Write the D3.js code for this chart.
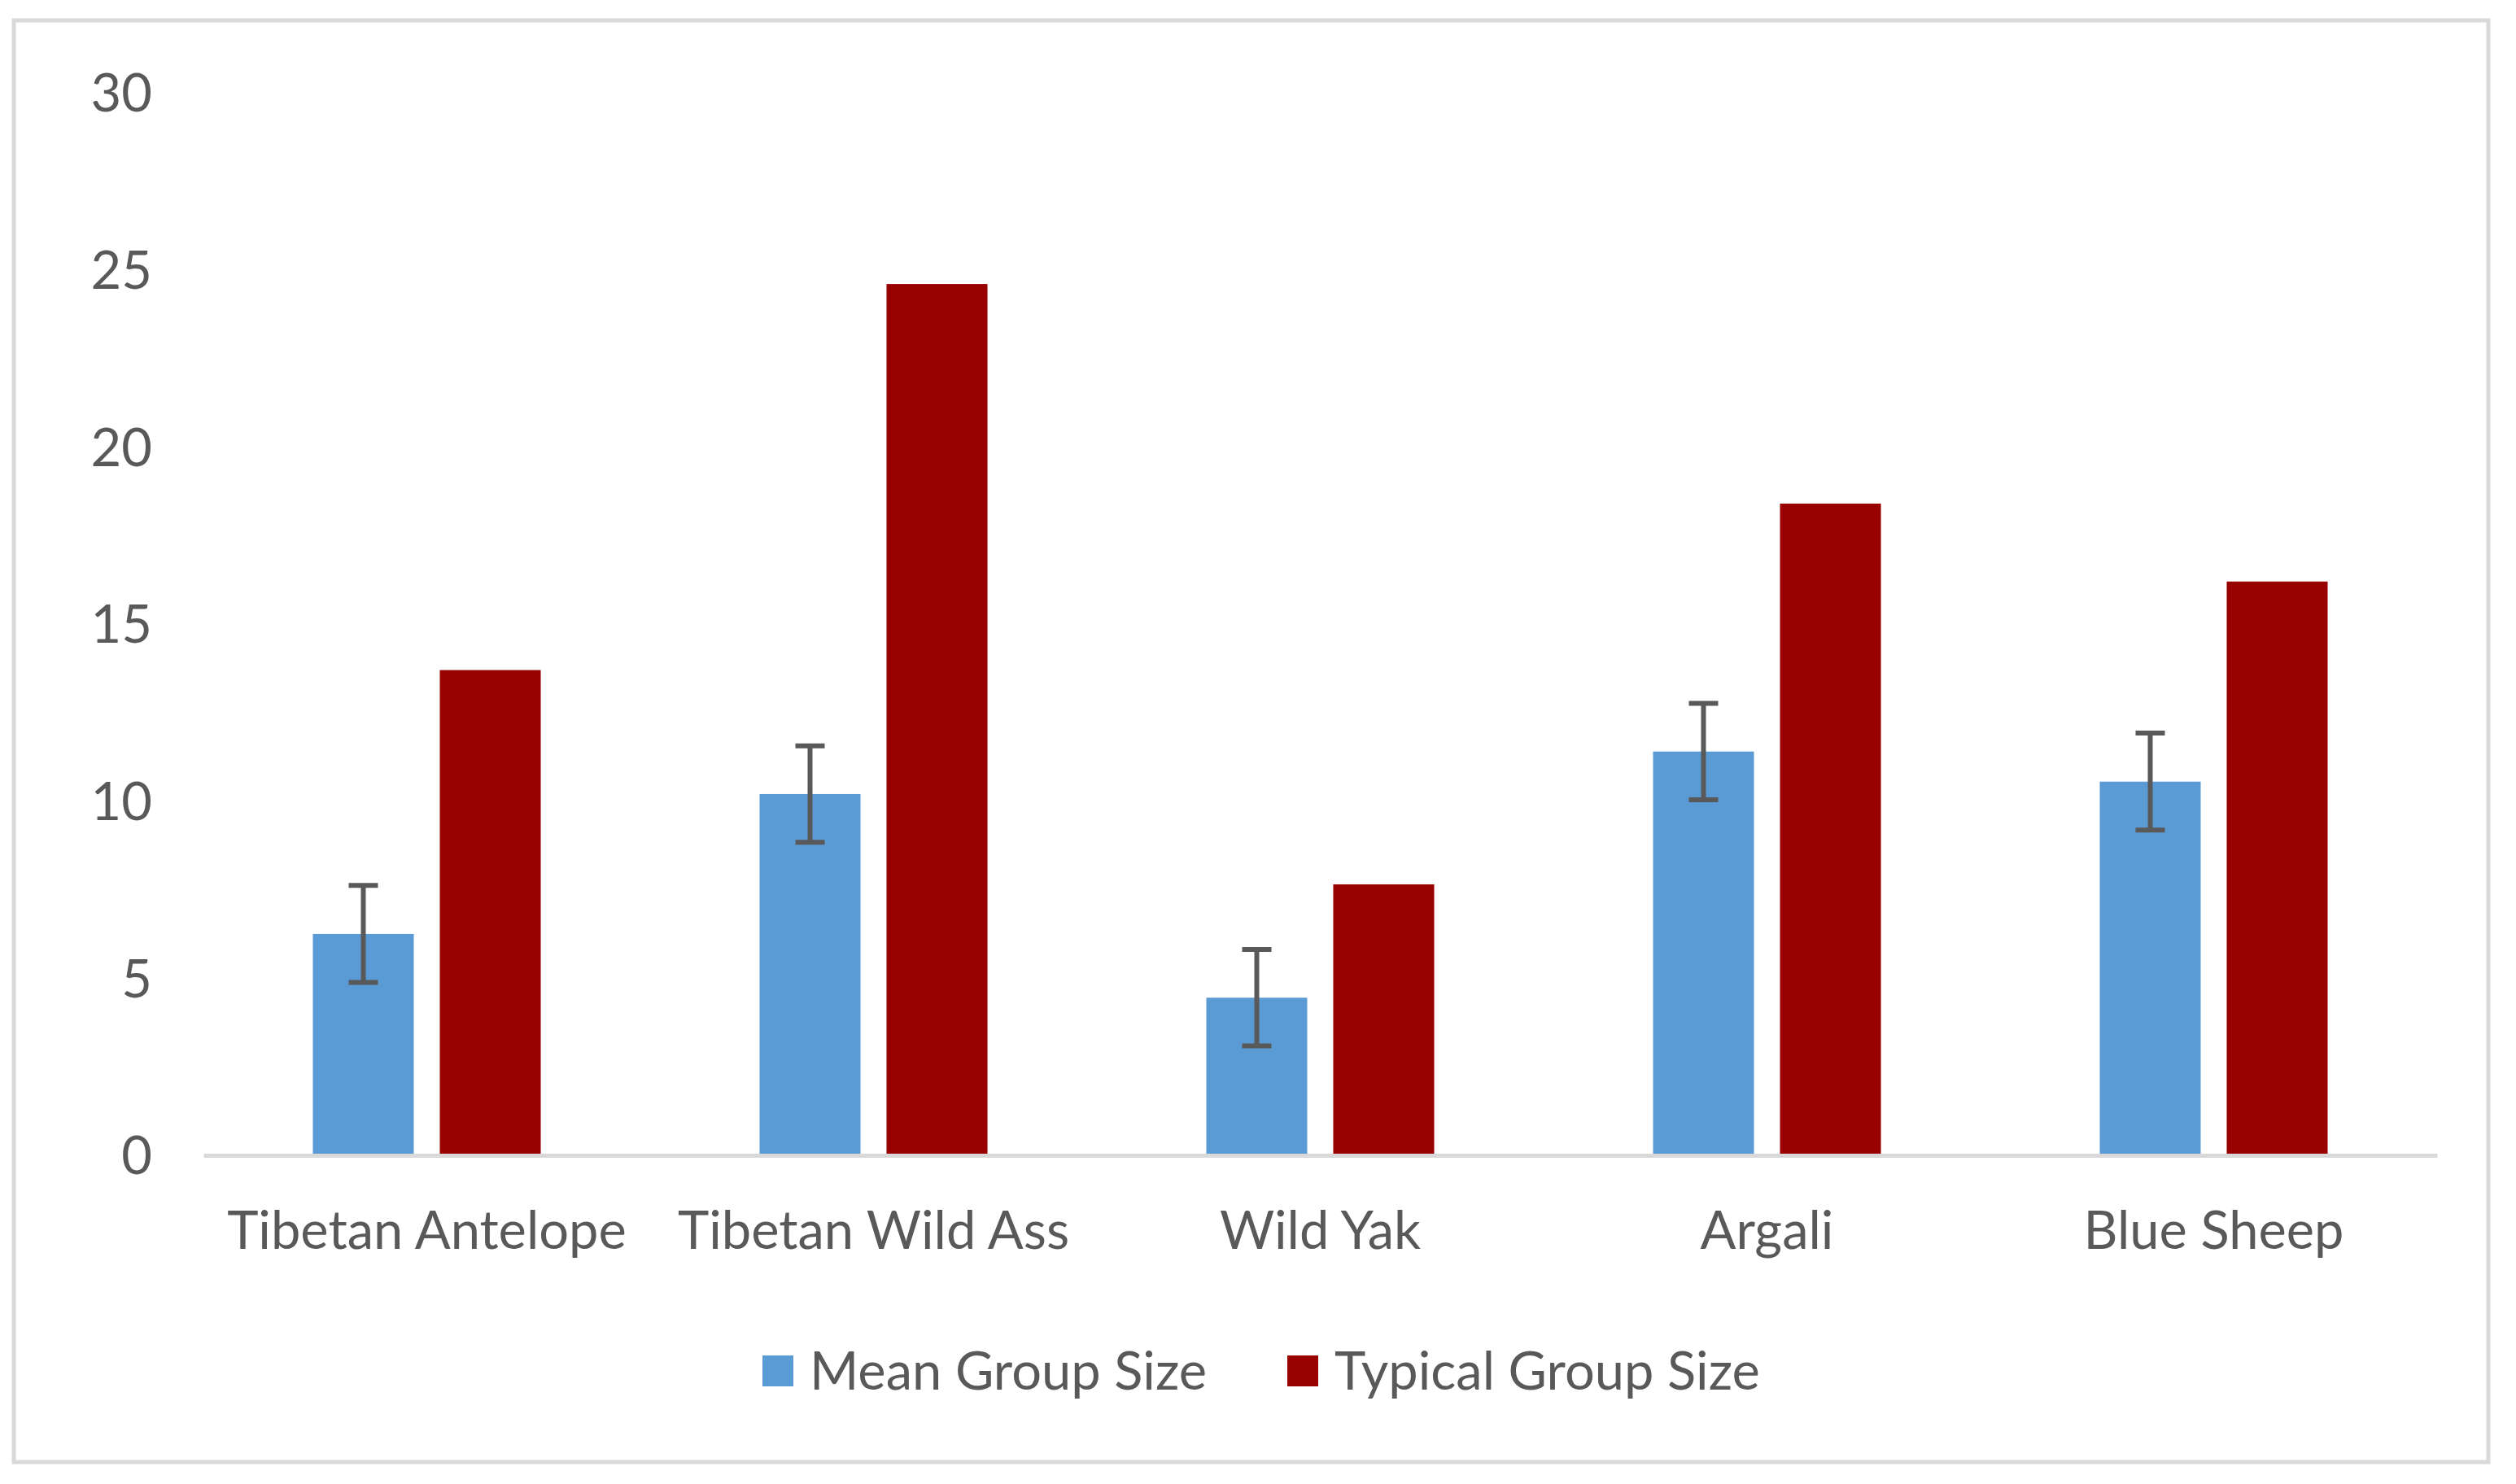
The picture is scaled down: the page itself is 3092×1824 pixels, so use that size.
<!DOCTYPE html>
<html><head><meta charset="utf-8">
<script src="https://cdn.jsdelivr.net/npm/d3@7"></script>
<style>html,body{margin:0;padding:0;background:#fff}</style>
</head><body>
<svg id="c" width="3092" height="1824"></svg>
<script>
const categories = ["Tibetan Antelope","Tibetan Wild Ass","Wild Yak","Argali","Blue Sheep"];
const seriesNames = ["Mean Group Size","Typical Group Size"];
const meanValues = [6.25, 10.2, 4.45, 11.4, 10.55];
const meanErrors = [1.37, 1.36, 1.36, 1.36, 1.37];
const typicalValues = [13.7, 24.6, 7.65, 18.4, 16.2];
const yTicks = [0,5,10,15,20,25,30];
const colors = ["#5B9BD5","#990000"];

const svg = d3.select("#c");
const font = "Lato, 'Open Sans', sans-serif";
const txt = "#595959";
const fs = 65;

svg.append("rect").attr("x",17).attr("y",25).attr("width",3041).attr("height",1772)
  .attr("fill","#fff").attr("stroke","#d9d9d9").attr("stroke-width",5);

const x0 = d3.scaleBand().domain(categories).range([250,2995]).paddingInner(0).paddingOuter(0);
const x1 = d3.scaleBand().domain(seriesNames).range([0,x0.bandwidth()]).paddingInner(0.205).paddingOuter(0.862);
const y = d3.scaleLinear().domain([0,30]).range([1420,114]);

// y axis labels
const yAxis = d3.axisLeft(y).tickValues(yTicks).tickSize(0).tickPadding(0);
const gy = svg.append("g").attr("transform","translate(187,0)").call(yAxis);
gy.select(".domain").remove();
gy.selectAll("text").attr("font-family",font).attr("font-size",fs).attr("fill",txt).attr("dy","0.35em");

// bars
const data = categories.map((c,i)=>({c, v:[meanValues[i], typicalValues[i]], e:meanErrors[i]}));
const g = svg.append("g");
data.forEach(d=>{
  seriesNames.forEach((s,j)=>{
    g.append("rect").attr("x",x0(d.c)+x1(s)).attr("width",x1.bandwidth())
      .attr("y",y(d.v[j])).attr("height",y(0)-y(d.v[j])).attr("fill",colors[j]);
  });
});

// x axis
const xAxis = d3.axisBottom(x0).tickSize(0).tickPadding(0);
const gx = svg.append("g").attr("transform",`translate(0,${y(0)})`).call(xAxis);
gx.select(".domain").attr("stroke","#d9d9d9").attr("stroke-width",5);
gx.selectAll("text").attr("font-family",font).attr("font-size",fs).attr("fill",txt).attr("dy","0").attr("y",115);

// error bars
const eb = svg.append("g").attr("stroke","#595959").attr("stroke-width",6);
data.forEach(d=>{
  const cx = x0(d.c)+x1(seriesNames[0])+x1.bandwidth()/2;
  const top = y(d.v[0]+d.e), bot = y(d.v[0]-d.e);
  eb.append("line").attr("x1",cx).attr("x2",cx).attr("y1",top).attr("y2",bot);
  eb.append("line").attr("x1",cx-18).attr("x2",cx+18).attr("y1",top).attr("y2",top);
  eb.append("line").attr("x1",cx-18).attr("x2",cx+18).attr("y1",bot).attr("y2",bot);
});

// legend
const leg = svg.append("g");
const legX = [937, 1582];
seriesNames.forEach((s,j)=>{
  leg.append("rect").attr("x",legX[j]).attr("y",1666).attr("width",38).attr("height",38).attr("fill",colors[j]);
  leg.append("text").attr("x",legX[j]+58).attr("y",1685).attr("dy","0.35em")
    .attr("font-family",font).attr("font-size",fs).attr("fill",txt).text(s);
});
</script>
</body></html>
